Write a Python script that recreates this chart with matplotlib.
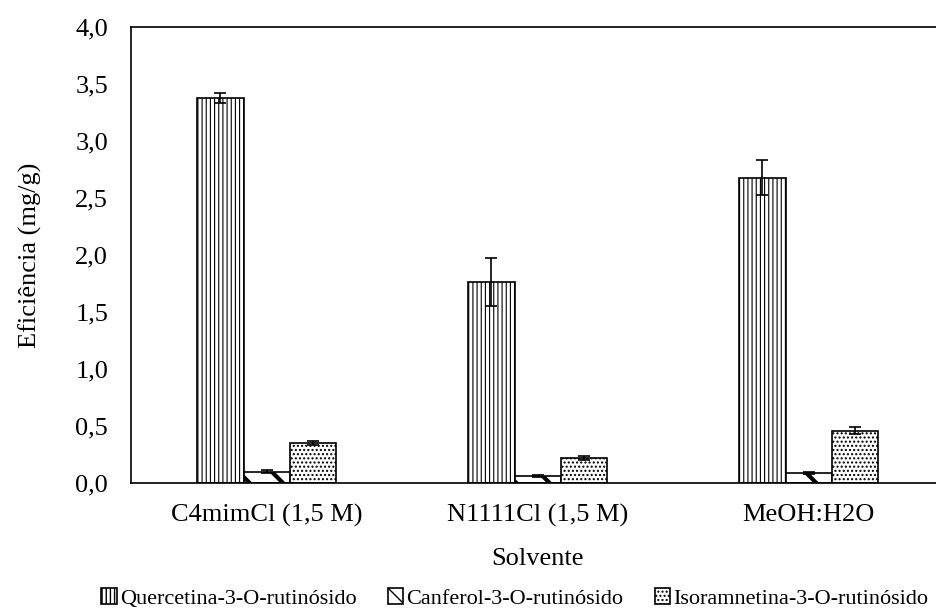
import numpy as np
import matplotlib
matplotlib.use("Agg")
import matplotlib.pyplot as plt

plt.rcParams['font.family'] = ['Liberation Serif', 'DejaVu Serif']

solventes = ["C4mimCl (1,5 M)", "N1111Cl (1,5 M)", "MeOH:H2O"]
series = ["Quercetina-3-O-rutinósido", "Canferol-3-O-rutinósido", "Isoramnetina-3-O-rutinósido"]
quercetina = [3.38, 1.76, 2.68]
quercetina_err = [0.045, 0.21, 0.15]
canferol = [0.10, 0.06, 0.09]
canferol_err = [0.01, 0.01, 0.01]
isoramnetina = [0.35, 0.22, 0.46]
isoramnetina_err = [0.02, 0.02, 0.03]
yticks = [0.0, 0.5, 1.0, 1.5, 2.0, 2.5, 3.0, 3.5, 4.0]

fig = plt.figure(figsize=(9.36, 6.12), dpi=100)
ax = fig.add_axes([0.140, 0.2108, 0.8686, 0.745])

x = np.arange(len(solventes))
w = 0.17
values = [quercetina, canferol, isoramnetina]
errors = [quercetina_err, canferol_err, isoramnetina_err]
hatches = ['||||', '\\', '....']
hatch_lw = [0.8, 3.0, 1.0]

handles = []
for i in range(3):
    with plt.rc_context({'hatch.linewidth': hatch_lw[i]}):
        b = ax.bar(x + (i - 1) * w, values[i], w, color='white', edgecolor='black',
                   linewidth=1.2, hatch=hatches[i], label=series[i])
    ax.errorbar(x + (i - 1) * w, values[i], yerr=errors[i], fmt='none',
                ecolor='black', elinewidth=1.2, capsize=4.5, capthick=1.2)
    handles.append(b)

ax.set_xlim(-0.5, 2.5)
ax.set_ylim(0, 4.0)
ax.set_yticks(yticks)
ax.set_yticklabels([f"{t:.1f}".replace('.', ',') for t in yticks])
ax.set_xticks(x)
ax.set_xticklabels(solventes)
ax.tick_params(axis='y', length=0, pad=16.5, labelsize=19)
ax.tick_params(axis='x', length=0, pad=15, labelsize=19)
for s in ['left', 'top', 'bottom']:
    ax.spines[s].set_linewidth(1.2)
ax.spines['right'].set_visible(False)

ax.set_xlabel("Solvente", fontsize=19, labelpad=15)
ax.set_ylabel("Eficiência (mg/g)", fontsize=19, labelpad=24)

fig.legend(handles=handles, labels=series, loc='lower center', bbox_to_anchor=(0.55, -0.027),
           ncol=3, frameon=False, fontsize=16, handlelength=0.7, handleheight=0.7,
           handletextpad=0.15, columnspacing=1.4)

fig.savefig("out.png", dpi=100)
